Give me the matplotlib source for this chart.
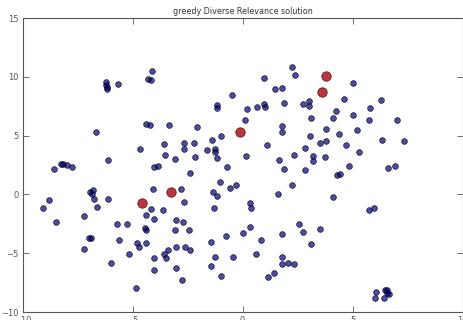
import numpy as np
import matplotlib
matplotlib.use("Agg")
import matplotlib.pyplot as plt

# all items (2-d embedding)
x_all = [-6.21, -6.21, -6.18, -6.17, -5.68, -4.11, -4.29, -4.17, -0.49, -1.15,
         -1.15, -6.65, -4.38, -4.23, -3.34, -2.08, -1.00, -1.38, -1.25, -1.25,
         -1.18, -1.62, -4.68, -3.58, -2.68, -2.23, -2.68, -3.52, -3.06, -2.17,
         -6.11, -0.73, -4.02, -3.84, -8.56, -8.27, -8.15, -8.00, -7.76, -2.41,
         -1.03, -1.35, -1.18, -1.28, -0.59, -0.30, -2.79, -4.08, -2.65, -4.38,
         -4.17, -3.63, -4.02, -3.04, -2.70, -3.06, -2.43, -4.44, -4.41, -4.40,
         -4.80, -4.70, -3.41, -3.57, -3.50, -3.02, -2.61, -2.37, -4.02, -4.01,
         -3.03, -2.75, -1.45, -0.76, -1.25, -0.44, -1.45, -0.98, -4.86, -5.16,
         -5.27, -5.72, -5.64, -5.99, -6.11, -6.61, -6.96, -6.80, -6.86, -6.77,
         -7.21, -6.91, -6.97, -7.21, -8.79, -9.09, -8.50,
         2.25, 2.38, 0.97, 5.04, 1.45, 1.80, 0.22, 0.64, 0.97, 1.00,
         1.89, 2.73, 3.00, 3.04, 4.59, 6.27, 5.79, 4.23, 4.10, 5.01,
         5.75, 7.01, 0.10, 3.09, 1.79, 1.80, 3.81, 5.18, 4.40, 3.06,
         3.81, 3.50, 4.71, 6.35, 7.33, 1.09, 2.83, 5.31, 0.16, 2.32,
         3.22, 3.18, 3.75, 1.66, 4.82, 6.62, 6.95, 1.90, 2.83, 4.29,
         4.41, 2.23, 1.60, 4.10, 0.32, 0.39, 5.73, 5.99, 2.56, 2.74,
         3.50, 0.32, 0.02, 1.79, 0.85, 3.09, 0.60, 1.79, 1.79, 2.06,
         2.35, 1.42, 1.16, 6.08, 6.48, 6.57, 6.64, 6.55, 6.03, 6.41]
y_all = [9.56, 9.36, 9.19, 9.02, 9.42, 10.47, 9.85, 9.76, 8.49, 7.62,
         7.36, 5.30, 6.02, 5.90, 5.90, 5.74, 4.96, 4.68, 3.89, 3.60,
         3.11, 3.79, 3.89, 4.28, 4.41, 4.34, 3.83, 3.32, 3.00, 3.23,
         2.95, 2.38, 2.32, 2.44, 2.21, 2.60, 2.60, 2.49, 2.38, 1.81,
         1.09, 0.24, -0.14, -1.11, 0.58, 0.85, 0.51, 0.47, -0.60, -1.72,
         -1.22, -1.28, -2.07, -2.17, -2.32, -3.00, -3.00, -2.89, -3.06, -4.13,
         -4.11, -4.47, -4.75, -5.09, -5.42, -4.51, -4.51, -4.74, -5.42, -6.43,
         -6.24, -7.26, -4.02, -3.51, -5.30, -5.36, -6.10, -6.92, -7.94, -5.08,
         -2.49, -2.49, -3.85, -5.87, -0.37, -1.05, 0.19, 0.36, 0.06, -0.37,
         -1.85, -3.74, -3.74, -4.60, -0.44, -1.11, -2.38,
         10.83, 10.15, 9.94, 9.49, 9.00, 9.09, 7.30, 7.42, 7.70, 7.43,
         7.81, 7.72, 7.98, 7.51, 8.09, 8.03, 7.32, 7.09, 6.53, 6.75,
         6.30, 6.30, 6.36, 6.53, 5.86, 5.29, 5.57, 5.51, 5.19, 4.96,
         4.57, 4.34, 4.17, 4.68, 4.57, 4.17, 3.96, 3.60, 3.28, 3.32,
         3.28, 2.89, 3.17, 2.94, 2.44, 2.27, 2.43, 2.15, 2.11, 1.66,
         1.76, 0.85, 0.03, -0.20, -0.71, -1.11, -1.34, -1.17, -2.55, -3.23,
         -2.95, -2.78, -3.29, -3.40, -3.85, -4.20, -5.08, -5.30, -5.93, -5.81,
         -5.93, -6.72, -7.04, -8.34, -8.14, -8.14, -8.51, -8.37, -8.83, -8.83]

# selected items
x_sel = [-0.14, 3.81, 3.59, -3.27, -4.59]
y_sel = [5.30, 10.10, 8.75, 0.17, -0.71]

fig = plt.figure(figsize=(4.63, 3.2), dpi=100)
ax = fig.add_axes([0.049, 0.025, 0.950, 0.918])

ax.scatter(x_all, y_all, s=17, c='navy', alpha=0.7, edgecolors='black', linewidths=0.6)
ax.scatter(x_sel, y_sel, s=46, c='#b0121e', alpha=0.85, edgecolors='#5a0a0a', linewidths=0.6)

ax.set_xlim(-10, 10)
ax.set_ylim(-10, 15)
ax.set_xticks([-10, -5, 0, 5, 10])
ax.set_yticks([-10, -5, 0, 5, 10, 15])
ax.tick_params(direction='in', top=True, right=True, length=4, width=0.6,
               labelsize=6, colors='#555555', pad=3)
for sp in ax.spines.values():
    sp.set_color('#555555')
    sp.set_linewidth(0.8)
ax.set_title("greedy Diverse Relevance solution", fontsize=5.8, color='#333333', pad=3)

fig.savefig("out.png", dpi=100)
